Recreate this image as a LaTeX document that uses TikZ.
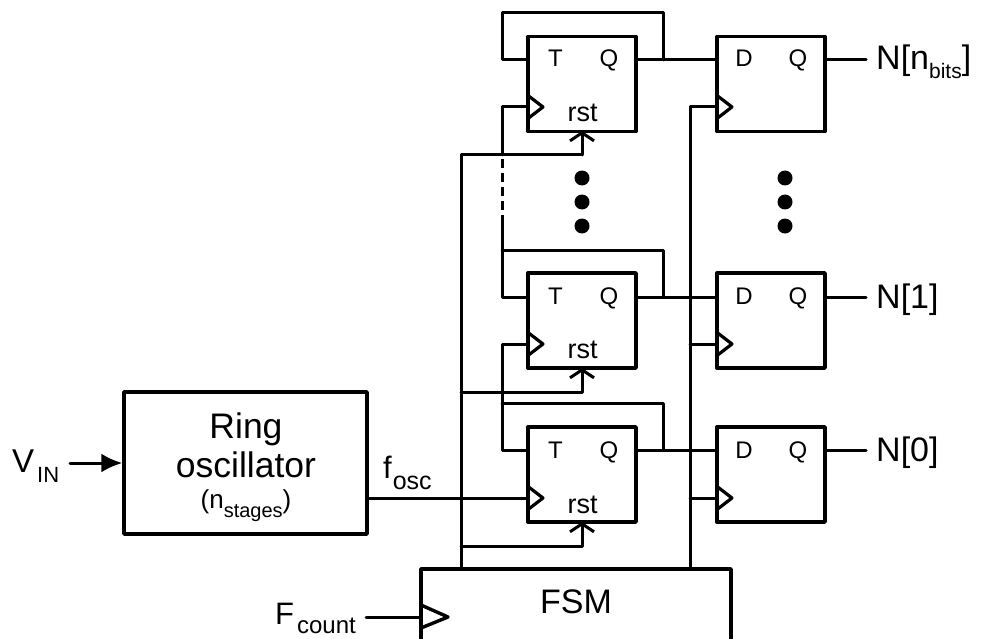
\documentclass[tikz,border=0pt]{standalone}
\usepackage{fontspec}
\setmainfont{Liberation Sans}
\usetikzlibrary{arrows.meta,calc}
\tikzset{
  wire/.style={line width=3pt,line cap=round,line join=round},
  ff/.style={draw,line width=3.4pt,minimum width=108pt,minimum height=95pt,inner sep=0pt,line join=round},
  bigbox/.style={draw,line width=3.4pt,inner sep=0pt,line join=round},
  port/.style={inner sep=0pt,anchor=base,font=\fontsize{24}{24}\selectfont},
  rstlbl/.style={inner sep=0pt,anchor=base,font=\fontsize{27}{27}\selectfont},
  lbl/.style={inner sep=0pt,anchor=base west,font=\fontsize{34}{34}\selectfont},
  rolbl/.style={inner sep=0pt,anchor=base,font=\fontsize{35.5}{35.5}\selectfont},
  clk/.style={line width=3.2pt,line join=round,line cap=round},
  rstarrow/.style={wire,-{Straight Barb[length=8pt,width=24pt,line width=3pt]}},
  dot/.style={fill=black,circle,inner sep=0pt,minimum size=15pt}
}
\newcommand{\clktri}[1]{\draw[clk] ($(#1)+(0,-11.5)$) -- ($(#1)+(15,0)$) -- ($(#1)+(0,11.5)$);}
\begin{document}
\begin{tikzpicture}[x=1pt,y=-1pt]
\useasboundingbox (0,0) rectangle (982,639);
% flip-flops
\node[ff] (t2) at (582,84) {};
\node[ff] (t1) at (582,320.5) {};
\node[ff] (t0) at (582,474.5) {};
\node[ff] (d2) at (771,84) {};
\node[ff] (d1) at (771,320.5) {};
\node[ff] (d0) at (771,474.5) {};
% ports
\foreach \f/\y in {t2/67,t1/304,t0/458}{
  \node[port] (\f T) at (555.5,\y) {T};
  \node[port] (\f Q) at (609,\y) {Q};
}
\foreach \f/\y in {d2/67,d1/304,d0/458}{
  \node[port] (\f D) at (744,\y) {D};
  \node[port] (\f Q) at (798,\y) {Q};
}
\node[rstlbl] (r2) at (582.5,122) {rst};
\node[rstlbl] (r1) at (582.5,358) {rst};
\node[rstlbl] (r0) at (582.5,513) {rst};
% coordinates
\coordinate (t2ck) at (528,107); \coordinate (t1ck) at (528,344); \coordinate (t0ck) at (528,498);
\coordinate (d2ck) at (717,107); \coordinate (d1ck) at (717,344); \coordinate (d0ck) at (717,498);
\foreach \f in {t2ck,t1ck,t0ck,d2ck,d1ck,d0ck}{\clktri{\f}}
\coordinate (t2ti) at (528,60); \coordinate (t1ti) at (528,297); \coordinate (t0ti) at (528,450);
\coordinate (t2qo) at (636,60); \coordinate (t1qo) at (636,297); \coordinate (t0qo) at (636,450);
\coordinate (d2di) at (717,60); \coordinate (d1di) at (717,297); \coordinate (d0di) at (717,450);
\coordinate (d2qo) at (825,60); \coordinate (d1qo) at (825,297); \coordinate (d0qo) at (825,450);
% Q to D
\draw[wire] (t2qo) -- (d2di);
\draw[wire] (t1qo) -- (d1di);
\draw[wire] (t0qo) -- (d0di);
% feedback
\draw[wire] (t2ti) -- (502,60) -- (502,13) -- (663,13) -- (663,60);
\draw[wire] (t1ti) -- (502,297) -- (502,217);
\draw[wire] (502,250) -- (663,250) -- (663,297);
\draw[wire] (t0ti) -- (502,450) -- (502,344) -- (t1ck);
\draw[wire] (502,403) -- (663,403) -- (663,450);
\draw[wire] (t2ck) -- (502,107) -- (502,155);
\draw[line width=3pt,dash pattern=on 9pt off 5pt] (502,159) -- (502,217);
% FSM
\node[inner sep=0pt,anchor=base,font=\fontsize{34}{34}\selectfont] (fsm) at (576,613) {FSM};
\coordinate (fsmtl) at (421,569); \coordinate (fsmtr) at (731,569);
\draw[line width=3.4pt,line join=round] (421,641) -- (fsmtl) -- (fsmtr) -- (731,641);
\draw[clk,line width=3.4pt] (421,605) -- (448,617) -- (421,628);
% reset and enable buses
\draw[wire] (461,569) -- (461,155) -- (582,155);
\draw[rstarrow] (582,155) -- (582,131);
\draw[rstarrow] (461,392) -- (582,392) -- (582,368);
\draw[rstarrow] (461,546) -- (582,546) -- (582,522);
\draw[wire] (690,569) -- (690,107) -- (d2ck);
\draw[wire] (690,344) -- (d1ck);
\draw[wire] (690,498) -- (d0ck);
% outputs
\coordinate (n2e) at (866,60); \coordinate (n1e) at (866,297); \coordinate (n0e) at (866,450);
\draw[wire] (d2qo) -- (n2e);
\draw[wire] (d1qo) -- (n1e);
\draw[wire] (d0qo) -- (n0e);
\node[lbl] (n2) at (876,70) {N[n\raisebox{-9pt}{\fontsize{21}{21}\selectfont bits}]};
\node[lbl] (n1) at (876,308) {N[1]};
\node[lbl] (n0) at (876,461) {N[0]};
% dots
\foreach \x in {582,785}\foreach \y in {178,202,226}{\node[dot] at (\x,\y) {};}
% ring oscillator
\node[bigbox,minimum width=243pt,minimum height=142pt] (ro) at (245.5,463) {};
\node[rolbl] (ro1) at (246,438) {Ring};
\node[rolbl] (ro2) at (246,477) {oscillator};
\node[inner sep=0pt,anchor=base,font=\fontsize{26}{26}\selectfont] (ro3) at (246,508) {(n\raisebox{-9pt}{\fontsize{20}{20}\selectfont stages})};
\coordinate (roout) at (367,498);
\draw[wire] (roout) -- (t0ck);
\node[lbl,font=\fontsize{31}{31}\selectfont] (fosc) at (383,478) {f\hspace{1pt}\raisebox{-11pt}{\fontsize{25}{25}\selectfont osc}};
% inputs
\node[lbl,font=\fontsize{33}{33}\selectfont] (vin) at (12,472) {V\hspace{3pt}\raisebox{-10pt}{\fontsize{22}{22}\selectfont IN}};
\coordinate (vs) at (70,463);
\draw[wire,-{Latex[length=21pt,width=19pt]}] (vs) -- (ro.west |- vs);
\node[lbl,font=\fontsize{31}{31}\selectfont] (fc) at (275,624) {F\hspace{3pt}\raisebox{-9pt}{\fontsize{24}{24}\selectfont count}};
\coordinate (fsmck) at (421,617);
\draw[wire] (366,617) -- (fsmck);
\end{tikzpicture}
\end{document}
